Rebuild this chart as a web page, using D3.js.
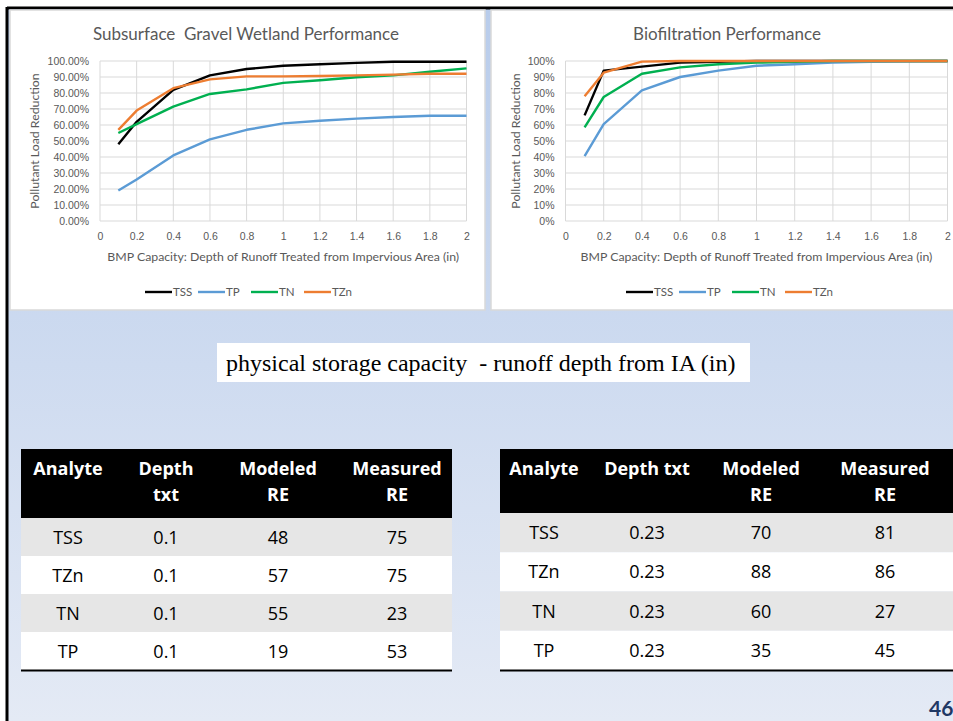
<!DOCTYPE html>
<html>
<head>
<meta charset="utf-8">
<script src="https://cdn.jsdelivr.net/npm/d3@7"></script>
<style>
  html, body { margin: 0; padding: 0; background: #fff; }
  svg { display: block; font-family: Lato, "Open Sans", sans-serif; }
</style>
</head>
<body>
<div id="slide"></div>
<script>
// x positions (in) shared by both charts
const depths = [0.1, 0.2, 0.4, 0.6, 0.8, 1.0, 1.2, 1.4, 1.6, 1.8, 2.0];
const xTicks = [0, 0.2, 0.4, 0.6, 0.8, 1, 1.2, 1.4, 1.6, 1.8, 2];
const yTicks = [0, 10, 20, 30, 40, 50, 60, 70, 80, 90, 100];

// Subsurface gravel wetland (%)
const gravelTSS = [48, 62, 82, 91, 95, 97, 98, 98.8, 99.5, 99.5, 99.5];
const gravelTP = [19, 26, 41, 51, 57, 61, 62.7, 64, 65, 65.8, 65.8];
const gravelTN = [55, 60.5, 71.5, 79.4, 82.3, 86.3, 88, 89.8, 91, 93.3, 95.4];
const gravelTZn = [57, 69, 83, 88.5, 90.4, 90.4, 90.6, 91, 91.5, 92, 92];

// Biofiltration (%)
const bioTSS = [66, 94, 96.5, 99, 99.5, 100, 100, 100, 100, 100, 100];
const bioTP = [40.6, 60.6, 81.7, 90, 94, 97, 98, 99, 99.5, 99.8, 100];
const bioTN = [58.5, 77.5, 92, 96, 98, 99, 99.5, 100, 100, 100, 100];
const bioTZn = [78, 92.7, 99.6, 100, 100, 100, 100, 100, 100, 100, 100];

const seriesNames = ["TSS", "TP", "TN", "TZn"];
const seriesColors = ["#000000", "#5b9bd5", "#00b050", "#ed7d31"];

// tables
const leftHeader = [["Analyte"], ["Depth", "txt"], ["Modeled", "RE"], ["Measured", "RE"]];
const leftRows = [
  ["TSS", "0.1", "48", "75"],
  ["TZn", "0.1", "57", "75"],
  ["TN", "0.1", "55", "23"],
  ["TP", "0.1", "19", "53"]
];
const rightHeader = [["Analyte"], ["Depth txt"], ["Modeled", "RE"], ["Measured", "RE"]];
const rightRows = [
  ["TSS", "0.23", "70", "81"],
  ["TZn", "0.23", "88", "86"],
  ["TN", "0.23", "60", "27"],
  ["TP", "0.23", "35", "45"]
];

const W = 953, H = 721;
const svg = d3.select("#slide").append("svg").attr("width", W).attr("height", H);

// background
const defs = svg.append("defs");
const grad = defs.append("linearGradient").attr("id", "bg")
  .attr("x1", 0).attr("y1", 0).attr("x2", 0).attr("y2", 1);
grad.append("stop").attr("offset", "0%").attr("stop-color", "#b8cceb");
grad.append("stop").attr("offset", "100%").attr("stop-color", "#e4eaf5");
svg.append("rect").attr("x", 7).attr("y", 8).attr("width", W - 7).attr("height", H - 8)
  .attr("fill", "url(#bg)");
// black frame top / left
svg.append("line").attr("x1", 7).attr("x2", W).attr("y1", 8).attr("y2", 8)
  .attr("stroke", "#000").attr("stroke-width", 3);
svg.append("line").attr("x1", 7).attr("x2", 7).attr("y1", 7).attr("y2", H)
  .attr("stroke", "#000").attr("stroke-width", 3);

function drawChart(cfg) {
  const g = svg.append("g");
  g.append("rect")
    .attr("x", cfg.panel[0]).attr("y", cfg.panel[1])
    .attr("width", cfg.panel[2]).attr("height", cfg.panel[3])
    .attr("fill", "#fff").attr("stroke", "#d9d9d9").attr("stroke-width", 1.5);

  const x = d3.scaleLinear().domain([0, 2]).range([cfg.plot[0], cfg.plot[1]]);
  const y = d3.scaleLinear().domain([0, 100]).range([cfg.plot[3], cfg.plot[2]]);

  // grid
  g.append("g").selectAll("line").data(yTicks).join("line")
    .attr("x1", x(0)).attr("x2", x(2))
    .attr("y1", (d) => y(d)).attr("y2", (d) => y(d))
    .attr("stroke", "#d9d9d9").attr("stroke-width", 1);
  g.append("g").selectAll("line").data(xTicks).join("line")
    .attr("x1", (d) => x(d)).attr("x2", (d) => x(d))
    .attr("y1", y(0)).attr("y2", y(100))
    .attr("stroke", "#d9d9d9").attr("stroke-width", 1);

  // axes (labels only)
  const yAxis = d3.axisLeft(y).tickValues(yTicks).tickSize(0).tickPadding(11)
    .tickFormat(cfg.yFormat);
  const gy = g.append("g").attr("transform", `translate(${x(0)},0)`).call(yAxis);
  gy.select(".domain").remove();
  gy.selectAll("text").attr("fill", "#595959").style("font-size", "10.5px");

  const xAxis = d3.axisBottom(x).tickValues(xTicks).tickSize(0).tickPadding(12)
    .tickFormat((d) => String(d));
  const gx = g.append("g").attr("transform", `translate(0,${y(0)})`).call(xAxis);
  gx.select(".domain").remove();
  gx.selectAll("text").attr("fill", "#595959").style("font-size", "10.5px");

  // titles
  g.append("text").attr("x", cfg.titleX).attr("y", 40)
    .attr("text-anchor", "middle").attr("fill", "#595959")
    .style("font-size", "17px").style("white-space", "pre").text(cfg.title);
  g.append("text").attr("x", (x(0) + x(2)) / 2).attr("y", 261)
    .attr("text-anchor", "middle").attr("fill", "#595959")
    .style("font-size", "12.3px")
    .text("BMP Capacity: Depth of Runoff Treated from Impervious Area (in)");
  g.append("text")
    .attr("transform", `translate(${cfg.yTitleX},${(y(0) + y(100)) / 2}) rotate(-90)`)
    .attr("text-anchor", "middle").attr("fill", "#595959")
    .style("font-size", "12.3px").text("Pollutant Load Reduction");

  // lines
  const line = d3.line().x((d) => x(d[0])).y((d) => y(d[1]));
  cfg.series.forEach((vals, i) => {
    g.append("path")
      .datum(depths.map((dx, j) => [dx, vals[j]]))
      .attr("d", line)
      .attr("fill", "none")
      .attr("stroke", seriesColors[i])
      .attr("stroke-width", 2.4)
      .attr("stroke-linejoin", "round");
  });

  // legend
  const lg = g.append("g").attr("transform", `translate(${cfg.legendX},292)`);
  const step = 53;
  seriesNames.forEach((name, i) => {
    lg.append("line").attr("x1", i * step).attr("x2", i * step + 27)
      .attr("y1", 0).attr("y2", 0)
      .attr("stroke", seriesColors[i]).attr("stroke-width", 2.4);
    lg.append("text").attr("x", i * step + 28).attr("y", 4)
      .attr("fill", "#595959").style("font-size", "11.5px").text(name);
  });
}

drawChart({
  panel: [10, 10, 475, 300],
  plot: [100, 466.5, 61, 221],
  title: "Subsurface  Gravel Wetland Performance",
  titleX: 246,
  yTitleX: 39,
  legendX: 145,
  yFormat: (d) => d3.format(".2f")(d) + "%",
  series: [gravelTSS, gravelTP, gravelTN, gravelTZn]
});

drawChart({
  panel: [491, 10, 470, 300],
  plot: [565.5, 947.5, 61, 221],
  title: "Biofiltration Performance",
  titleX: 727,
  yTitleX: 520,
  legendX: 626,
  yFormat: (d) => d + "%",
  series: [bioTSS, bioTP, bioTN, bioTZn]
});

// caption box
svg.append("rect").attr("x", 217).attr("y", 343).attr("width", 533).attr("height", 39)
  .attr("fill", "#fff");
svg.append("text").attr("x", 226).attr("y", 371)
  .style("font-family", "'Liberation Serif', 'Times New Roman', serif")
  .style("font-size", "24px").attr("fill", "#000")
  .style("white-space", "pre")
  .text("physical storage capacity  - runoff depth from IA (in)");

function drawTable(cfg) {
  const g = svg.append("g").style("font-family", "'Open Sans', Lato, sans-serif");
  g.append("rect").attr("x", cfg.x0).attr("y", 449)
    .attr("width", cfg.x1 - cfg.x0).attr("height", cfg.headH).attr("fill", "#000");
  cfg.header.forEach((lines, i) => {
    lines.forEach((t, k) => {
      g.append("text").attr("x", cfg.cols[i]).attr("y", 475 + k * 26)
        .attr("text-anchor", "middle").attr("fill", "#fff")
        .style("font-size", "18px").style("font-weight", "bold").text(t);
    });
  });
  const top = 449 + cfg.headH;
  const rowH = (670 - top) / cfg.rows.length;
  cfg.rows.forEach((row, r) => {
    g.append("rect").attr("x", cfg.x0).attr("y", top + r * rowH)
      .attr("width", cfg.x1 - cfg.x0).attr("height", rowH)
      .attr("fill", r % 2 === 0 ? "#e6e6e6" : "#ffffff");
    row.forEach((t, i) => {
      g.append("text").attr("x", cfg.cols[i]).attr("y", top + r * rowH + rowH / 2 + 6.5)
        .attr("text-anchor", "middle").attr("fill", "#000")
        .style("font-size", "18px").text(t);
    });
  });
  g.append("line").attr("x1", cfg.x0).attr("x2", cfg.x1).attr("y1", 670.5).attr("y2", 670.5)
    .attr("stroke", "#000").attr("stroke-width", 2);
}

drawTable({ x0: 21, x1: 452, headH: 69, cols: [68, 166, 278, 397], header: leftHeader, rows: leftRows });
drawTable({ x0: 500, x1: 960, headH: 64, cols: [544, 647, 761, 885], header: rightHeader, rows: rightRows });

// page number
svg.append("text").attr("x", 929).attr("y", 716)
  .attr("fill", "#1f3864").style("font-size", "21px").style("font-weight", "bold")
  .text("46");
</script>
</body>
</html>
